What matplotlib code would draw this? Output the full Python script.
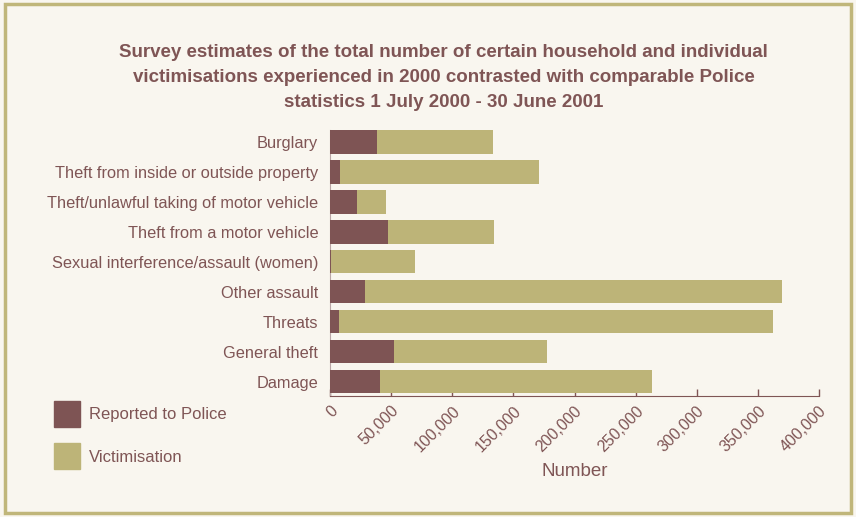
import matplotlib.pyplot as plt
from matplotlib.patches import Rectangle

# Offence categories, top to bottom
categories = [
    'Burglary',
    'Theft from inside or outside property',
    'Theft/unlawful taking of motor vehicle',
    'Theft from a motor vehicle',
    'Sexual interference/assault (women)',
    'Other assault',
    'Threats',
    'General theft',
    'Damage',
]

# Police recorded offences and survey victimisation totals
reported = [38500, 8200, 22000, 47500, 1200, 28600, 7400, 52400, 41000]
victimisation = [133300, 171000, 45800, 134200, 69500, 369700, 362400, 177500, 263400]

xticks = [0, 50000, 100000, 150000, 200000, 250000, 300000, 350000, 400000]
series_names = ['Reported to Police', 'Victimisation']

text_col = '#7f5555'
rep_col = '#7e5454'
vic_col = '#bdb478'
bg_col = '#f9f6ef'

plt.rcParams['font.family'] = ['Liberation Sans', 'DejaVu Sans']

fig = plt.figure(figsize=(8.56, 5.17), dpi=100, facecolor=bg_col)
ax = fig.add_axes([0.3855, 0.234, 0.5713, 0.5146])
ax.set_facecolor(bg_col)

ypos = list(range(len(categories)))
ax.barh(ypos, victimisation, height=0.77, color=vic_col, zorder=2)
ax.barh(ypos, reported, height=0.77, color=rep_col, zorder=3)

ax.set_ylim(len(categories) - 1 + 0.47, -0.4)
ax.set_xlim(0, 400000)
ax.set_yticks(ypos)
ax.set_yticklabels(categories, fontsize=11.8, color=text_col)
ax.tick_params(axis='y', length=0, pad=8.5)

ax.set_xticks(xticks)
ax.set_xticklabels(['{:,}'.format(v) for v in xticks], rotation=45,
                   ha='right', va='top', rotation_mode='anchor',
                   fontsize=11.5, color=text_col)
ax.tick_params(axis='x', direction='in', length=5, width=1, color=text_col, pad=5)
ax.set_xlabel('Number', fontsize=13.5, color=text_col, labelpad=6)

for side in ['top', 'right']:
    ax.spines[side].set_visible(False)
ax.spines['bottom'].set_color(text_col)
ax.spines['left'].set_color('#b9a6a6')

fig.text(0.518, 0.914,
         'Survey estimates of the total number of certain household and individual\n'
         'victimisations experienced in 2000 contrasted with comparable Police\n'
         'statistics 1 July 2000 - 30 June 2001',
         ha='center', va='top', fontsize=13.5, fontweight='bold', color=text_col,
         linespacing=1.58)

# legend keys drawn as plain squares with labels beside them
for i, (name, col) in enumerate(zip(series_names, [rep_col, vic_col])):
    y_top = 401 + i * 42
    fig.patches.append(Rectangle((54 / 856, 1 - (y_top + 26) / 517), 26 / 856, 26 / 517,
                                 transform=fig.transFigure, color=col))
    fig.text(89 / 856, 1 - (y_top + 14) / 517, name, ha='left', va='center',
             fontsize=12, color=text_col)

# outer frame
fig.patches.append(Rectangle((0.006, 0.008), 0.988, 0.984, transform=fig.transFigure,
                             fill=False, edgecolor='#c0b67a', linewidth=2.5))

fig.savefig('out.png', dpi=100, facecolor=bg_col)
